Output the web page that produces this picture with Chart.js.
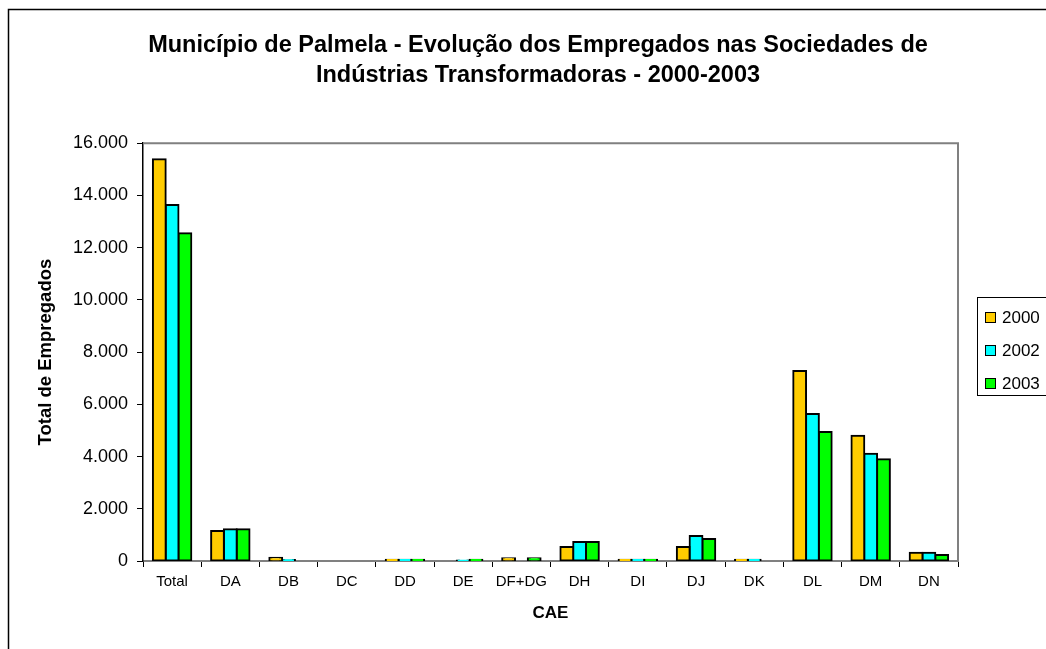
<!DOCTYPE html>
<html>
<head>
<meta charset="utf-8">
<script src="https://cdn.jsdelivr.net/npm/chart.js@4"></script>
<style>
  html, body { margin: 0; padding: 0; background: #fff; }
  #wrap { width: 1046px; height: 649px; position: relative; }
</style>
</head>
<body>
<div id="wrap"><canvas id="myEmpregados"></canvas></div>
<script>
// Empregados por CAE nas sociedades de indústrias transformadoras
const categorias = ['Total', 'DA', 'DB', 'DC', 'DD', 'DE', 'DF+DG', 'DH', 'DI', 'DJ', 'DK', 'DL', 'DM', 'DN'];
const anos = ['2000', '2002', '2003'];
const valores2000 = [15380, 1150, 120, 0, 50, 0, 110, 540, 50, 540, 50, 7280, 4800, 320];
const valores2002 = [13630, 1220, 40, 0, 50, 10, 0, 730, 50, 960, 50, 5630, 4110, 320];
const valores2003 = [12550, 1220, 0, 0, 50, 50, 110, 730, 50, 840, 0, 4940, 3900, 230];
const yTicks = [0, 2000, 4000, 6000, 8000, 10000, 12000, 14000, 16000];
const cores = ['#FFCC00', '#00FFFF', '#00FF00'];

const fonte = "Arial, 'Liberation Sans', sans-serif";

function milhares(v) {
  return String(v).replace(/\B(?=(\d{3})+(?!\d))/g, '.');
}

// moldura exterior, borda da área do gráfico e legenda à direita
const moldura = {
  id: 'moldura',
  afterLayout(chart) {
    // título centrado na largura toda da moldura
    if (chart.titleBlock) {
      chart.titleBlock.left = 30;
      chart.titleBlock.right = chart.width;
    }
  },
  beforeDraw(chart) {
    const ctx = chart.ctx;
    ctx.save();
    ctx.fillStyle = '#fff';
    ctx.fillRect(0, 0, chart.width, chart.height);
    ctx.strokeStyle = '#000';
    ctx.lineWidth = 1.5;
    ctx.strokeRect(8.5, 9.5, chart.width + 20, chart.height + 20);
    ctx.restore();
  },
  afterDatasetsDraw(chart) {
    const ctx = chart.ctx;
    const a = chart.chartArea;
    ctx.save();
    ctx.strokeStyle = '#808080';
    ctx.lineWidth = 2;
    ctx.beginPath();
    ctx.moveTo(a.left, a.top);
    ctx.lineTo(a.right, a.top);
    ctx.lineTo(a.right, a.bottom);
    ctx.stroke();

    // legenda
    const lx = 977, ly = 297;
    ctx.strokeStyle = '#000';
    ctx.lineWidth = 1;
    ctx.strokeRect(lx + 0.5, ly + 0.5, 100, 98);
    ctx.font = '17px ' + fonte;
    ctx.textBaseline = 'middle';
    chart.data.datasets.forEach((ds, i) => {
      const y = ly + 20 + i * 33;
      ctx.fillStyle = ds.backgroundColor;
      ctx.fillRect(lx + 8, y - 5, 10, 10);
      ctx.strokeStyle = '#000';
      ctx.strokeRect(lx + 8.5, y - 4.5, 10, 10);
      ctx.fillStyle = '#000';
      ctx.textAlign = 'left';
      ctx.fillText(ds.label, lx + 25, y + 1);
    });
    ctx.restore();
  }
};

const ctx = document.getElementById('myEmpregados');
ctx.width = 1046;
ctx.height = 649;

new Chart(ctx, {
  type: 'bar',
  data: {
    labels: categorias,
    datasets: [valores2000, valores2002, valores2003].map((d, i) => ({
      label: anos[i],
      data: d,
      backgroundColor: cores[i],
      borderColor: '#000',
      borderWidth: 2,
      borderSkipped: false,
      inflateAmount: 1,
      barPercentage: 1,
      categoryPercentage: 0.66
    }))
  },
  options: {
    responsive: false,
    animation: false,
    devicePixelRatio: 1,
    layout: { padding: { left: 35, right: 88, top: 0, bottom: 25 } },
    plugins: {
      legend: { display: false },
      tooltip: { enabled: false },
      title: {
        display: true,
        text: ['Município de Palmela - Evolução dos Empregados nas Sociedades de', 'Indústrias Transformadoras - 2000-2003'],
        color: '#000',
        font: { family: fonte, size: 23.5, weight: 'bold', lineHeight: 1.28 },
        padding: { top: 30, bottom: 53 }
      }
    },
    scales: {
      x: {
        grid: { offset: true, drawOnChartArea: false, drawTicks: true, tickLength: 6, color: '#000' },
        border: { color: '#808080', width: 2 },
        ticks: { color: '#000', font: { family: fonte, size: 15 }, padding: 6, maxRotation: 0, autoSkip: false },
        title: { display: true, text: 'CAE', color: '#000', font: { family: fonte, size: 17, weight: 'bold' }, padding: { top: 10, bottom: 0 } },
        afterFit(scale) { scale.height = 63; }
      },
      y: {
        min: 0,
        max: 16000,
        afterBuildTicks(scale) { scale.ticks = yTicks.map(v => ({ value: v })); },
        grid: { drawOnChartArea: false, drawTicks: true, tickLength: 6, color: '#000' },
        border: { color: '#000', width: 1.5 },
        ticks: { color: '#000', font: { family: fonte, size: 18 }, padding: 9, callback: v => milhares(v) },
        title: { display: true, text: 'Total de Empregados', color: '#000', font: { family: fonte, size: 18.5, weight: 'bold' }, padding: { top: 0, bottom: 10 } },
        afterFit(scale) { scale.width = 108; }
      }
    }
  },
  plugins: [moldura]
});
</script>
</body>
</html>
